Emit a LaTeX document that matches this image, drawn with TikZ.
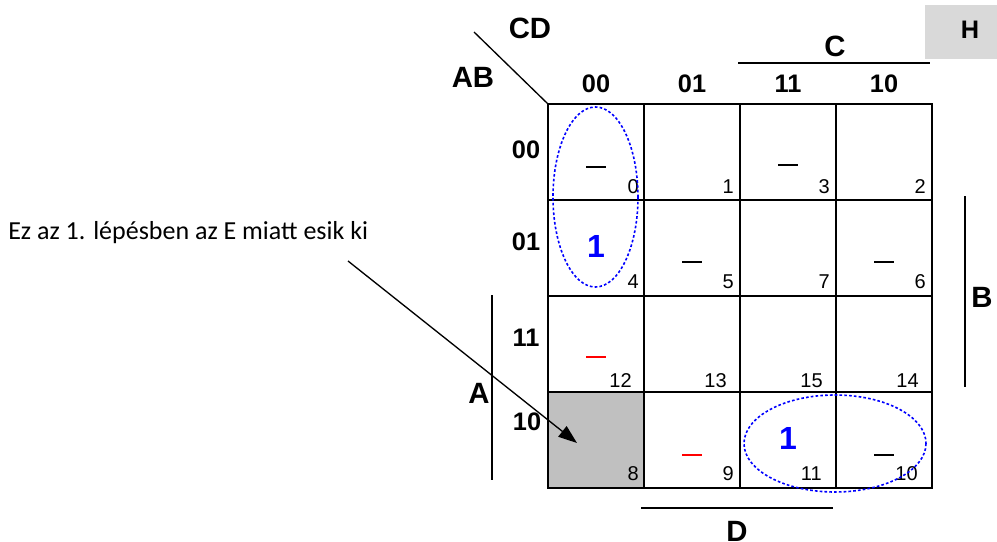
\documentclass[tikz,border=0pt]{standalone}
\usepackage{fontspec}
\setmainfont{Liberation Sans}
\newfontfamily\calfont{Carlito}
\usetikzlibrary{arrows.meta}
\definecolor{cellgray}{HTML}{C0C0C0}
\definecolor{hgray}{HTML}{D9D9D9}
\begin{document}
\begin{tikzpicture}[x=0.75pt,y=-0.75pt,
  grid/.style={line width=1.5pt},
  hdr/.style={font=\bfseries\fontsize{19}{21}\selectfont, inner sep=0pt},
  big/.style={font=\bfseries\fontsize{22}{24}\selectfont, inner sep=0pt},
  num/.style={font=\fontsize{15}{17}\selectfont, inner sep=0pt, anchor=base east},
  one/.style={font=\bfseries\fontsize{24}{26}\selectfont, text=blue, inner sep=0pt},
  dc/.style={line width=2.2pt},
  bar/.style={line width=1pt},
  loop/.style={blue, line width=1.2pt, dash pattern=on 2pt off 1.6pt}]
\useasboundingbox (0,0) rectangle (997,542);
% H box
\node[fill=hgray, minimum width=72*0.75pt, minimum height=54*0.75pt, inner sep=0pt] (Hbox) at (961,32) {};
\node[font=\bfseries\fontsize{19}{21}\selectfont, inner sep=0pt] (H) at (970,30) {H};
% gray cell
\fill[cellgray] (548,392) rectangle (644,488);
% grid
\draw[grid] (548,104) rectangle (932,488);
\foreach \x in {644,740,836} \draw[grid] (\x,104) -- (\x,488);
\foreach \y in {200,296,392} \draw[grid] (548,\y) -- (932,\y);
\coordinate (diagA) at (474,32);
\coordinate (corner) at (548,104);
\draw[line width=1pt] (diagA) -- (corner);
% labels
\node[big] (CD) at (530,28) {CD};
\node[big] (AB) at (473,77) {AB};
\node[big] (C) at (835,46) {C};
\node[big] (D) at (737,531) {D};
\node[big] (A) at (479,393) {A};
\node[big] (B) at (982,297) {B};
% bars
\coordinate (c1) at (738,63); \coordinate (c2) at (930,63);
\coordinate (d1) at (641,508); \coordinate (d2) at (833,508);
\coordinate (a1) at (492,295); \coordinate (a2) at (492,480);
\coordinate (b1) at (965,196); \coordinate (b2) at (965,387);
\draw[bar] (c1) -- (c2);
\draw[bar] (d1) -- (d2);
\draw[bar] (a1) -- (a2);
\draw[bar] (b1) -- (b2);
% headers
\node[hdr] (h00) at (596,84) {00};
\node[hdr] (h01) at (692,84) {01};
\node[hdr] (h11) at (788,84) {11};
\node[hdr] (h10) at (884,84) {10};
\node[hdr] (r00) at (526,150) {00};
\node[hdr] (r01) at (526,242) {01};
\node[hdr] (r11) at (526,338) {11};
\node[hdr] (r10) at (527,422) {10};
% cell numbers
\node[num] (n0) at (639,193) {0};
\node[num] (n1) at (734,193) {1};
\node[num] (n3) at (830,193) {3};
\node[num] (n2) at (926,193) {2};
\node[num] (n4) at (639,288) {4};
\node[num] (n5) at (734,288) {5};
\node[num] (n7) at (830,288) {7};
\node[num] (n6) at (926,288) {6};
\node[num] (n12) at (632,387) {12};
\node[num] (n13) at (727,387) {13};
\node[num] (n15) at (823,387) {15};
\node[num] (n14) at (919,387) {14};
\node[num] (n8) at (639,480) {8};
\node[num] (n9) at (734,480) {9};
\node[num] (n11) at (822,480) {11};
\node[num] (n10) at (918,480) {10};
% don't cares
\draw[dc] (586,167) -- (606,167);
\draw[dc] (778,165) -- (798,165);
\draw[dc] (682,262) -- (702,262);
\draw[dc] (874,262) -- (894,262);
\draw[dc, red] (586,357) -- (606,357);
\draw[dc, red] (682,455) -- (702,455);
\draw[dc] (874,455) -- (894,455);
% ones
\node[one] (o4) at (596,246.5) {1};
\node[one] (o11) at (788,438) {1};
% loops
\draw[loop] (595.5,197) ellipse [x radius=42.5, y radius=90];
\draw[loop] (835,443.5) ellipse [x radius=91, y radius=48.5];
% annotation
\node[font=\calfont\fontsize{19.5}{22}\selectfont, anchor=base west, inner sep=0pt] (note) at (8,239) {Ez az 1. lépésben az E miatt esik ki};
\coordinate (arrS) at (348,261);
\coordinate (arrE) at (577,443);
\draw[line width=1pt, -{Triangle[length=14pt,width=10pt]}] (arrS) -- (arrE);
\end{tikzpicture}
\end{document}
